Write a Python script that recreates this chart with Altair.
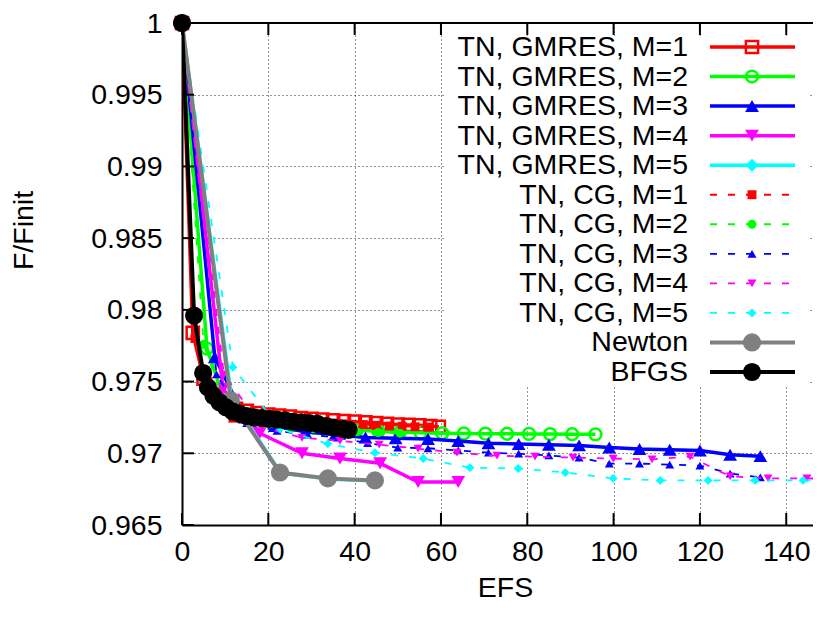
import altair as alt
import pandas as pd

# ---------------- data ----------------
G1_X = [0, 2.5, 5, 7.5, 10, 12.5, 15, 17.5, 20, 22.5, 25, 27.5, 30, 32.5, 35, 37.5, 40, 42.5, 45, 47.5, 50, 52.5, 55, 57.5, 59.5]
G1_Y = [1.0, 0.9784, 0.9752, 0.9741, 0.9735, 0.9731, 0.97295, 0.9728, 0.9727, 0.97262, 0.97255, 0.97245, 0.9724, 0.97235, 0.9723, 0.97225, 0.9722, 0.97215, 0.9721, 0.97205, 0.9720, 0.97198, 0.97195, 0.9719, 0.97185]

G2_X = [0, 5.8, 10.5, 15.5, 20.5, 25.5, 30.5, 35.5, 40.5, 45.5, 50.5, 55.3, 60.3, 65.3, 70.3, 75.3, 80.4, 85.3, 90.4, 95.8]
G2_Y = [1.0, 0.9773, 0.9731, 0.97255, 0.9722, 0.97195, 0.9718, 0.9717, 0.9716, 0.97153, 0.97148, 0.97143, 0.9714, 0.97138, 0.97137, 0.97136, 0.97135, 0.97134, 0.97133, 0.97132]

G3_X = [0, 7.6, 14.5, 21.5, 28.5, 35.5, 42.5, 49.5, 57, 64, 71, 78, 85, 92, 99, 106, 113, 120, 127, 134]
G3_Y = [1.0, 0.9767, 0.9725, 0.9719, 0.9715, 0.9713, 0.9711, 0.97105, 0.9710, 0.97085, 0.9707, 0.97065, 0.9706, 0.97055, 0.9704, 0.9703, 0.97025, 0.9702, 0.9699, 0.9698]

G4_X = [0, 9.5, 18, 27.8, 36.6, 45.9, 54.7, 64]
G4_Y = [1.0, 0.9745, 0.9714, 0.9700, 0.96963, 0.9693, 0.9680, 0.9680]

G5_X = [0, 11.5, 22.9, 34.0, 44.9]
G5_Y = [1.0, 0.9738, 0.96862, 0.96821, 0.96807]

C1_X = [0, 3, 6, 9.3, 11.8, 15, 18, 21, 24, 27, 30, 33, 36, 39, 42, 45, 48, 51, 54, 57]
C1_Y = [1.0, 0.9780, 0.9750, 0.9733, 0.97245, 0.9724, 0.97235, 0.9723, 0.97225, 0.9722, 0.97215, 0.9721, 0.97205, 0.9720, 0.9720, 0.97195, 0.9719, 0.97188, 0.97185, 0.97182]

C2_X = [0, 5, 10.7, 15.5, 20.5, 25.5, 30.5, 35.5, 40.5, 45.5, 50.5]
C2_Y = [1.0, 0.9776, 0.9728, 0.97235, 0.97205, 0.97185, 0.9717, 0.9716, 0.9715, 0.97145, 0.9714]

C3_X = [0, 8, 15, 22, 29, 36, 43, 50, 57, 64, 71, 78, 85, 92, 99, 106, 113, 120, 127, 134]
C3_Y = [1.0, 0.9755, 0.9721, 0.97156, 0.9713, 0.9711, 0.9707, 0.9704, 0.97035, 0.9702, 0.97004, 0.96997, 0.96985, 0.9697, 0.96928, 0.96928, 0.96921, 0.96914, 0.96859, 0.96832]

C4_X = [0, 9.7, 18.7, 27.8, 36.6, 45.7, 54.7, 63.7, 73, 81.8, 90.6, 99.9, 108.9, 117.7, 127, 135.8, 144.8, 153.8]
C4_Y = [1.0, 0.9755, 0.9718, 0.97108, 0.97087, 0.9706, 0.97032, 0.97004, 0.96983, 0.96976, 0.9697, 0.96963, 0.96958, 0.96976, 0.96839, 0.96825, 0.96825, 0.9682]

C5_X = [0, 11.8, 22.7, 33.8, 44.7, 55.9, 66.7, 77.9, 88.8, 99.9, 110.8, 121.9, 132.8, 143.9, 155]
C5_Y = [1.0, 0.9760, 0.9717, 0.97066, 0.97004, 0.96963, 0.96900, 0.96894, 0.96866, 0.96825, 0.96811, 0.96811, 0.96811, 0.96811, 0.9681]

NEWTON_X = [0, 11.3, 22.7, 33.8, 44.7]
NEWTON_Y = [1.0, 0.9737, 0.96866, 0.96825, 0.96811]

BFGS_X = [0, 2.8, 4.9, 6, 7.3, 8.7, 10.2, 11.8, 13.4, 15, 16.7, 18.4, 20.2, 22, 23.8, 25.7, 27.6, 29.5, 31.4, 33.4, 35.4, 37.4, 38.6]
BFGS_Y = [1.0, 0.9796, 0.9756, 0.9746, 0.9740, 0.97355, 0.9732, 0.9729, 0.97275, 0.9726, 0.9725, 0.97245, 0.9724, 0.97235, 0.9723, 0.9722, 0.97215, 0.9721, 0.97205, 0.9719, 0.97178, 0.97168, 0.97163]

LABELS = ["TN, GMRES, M=1", "TN, GMRES, M=2", "TN, GMRES, M=3", "TN, GMRES, M=4", "TN, GMRES, M=5",
          "TN, CG, M=1", "TN, CG, M=2", "TN, CG, M=3", "TN, CG, M=4", "TN, CG, M=5",
          "Newton", "BFGS"]
SERIES_X = [G1_X, G2_X, G3_X, G4_X, G5_X, C1_X, C2_X, C3_X, C4_X, C5_X, NEWTON_X, BFGS_X]
SERIES_Y = [G1_Y, G2_Y, G3_Y, G4_Y, G5_Y, C1_Y, C2_Y, C3_Y, C4_Y, C5_Y, NEWTON_Y, BFGS_Y]

X_TICKS = [0, 20, 40, 60, 80, 100, 120, 140]
Y_TICKS = [0.965, 0.97, 0.975, 0.98, 0.985, 0.99, 0.995, 1.0]
X_DOMAIN = [0, 146.2]
Y_DOMAIN = [0.965, 1.0]

# ---------------- styles ----------------
DASH = [7, 11]
STYLES = [
    dict(color="#ff0000", sw=3.5, dash=None, shape="square", filled=False, size=150, msw=2.5),
    dict(color="#00ff00", sw=3.5, dash=None, shape="circle", filled=False, size=140, msw=2.5),
    dict(color="#0000ff", sw=3.5, dash=None, shape="triangle-up", filled=True, size=190, msw=0),
    dict(color="#ff00ff", sw=3.5, dash=None, shape="triangle-down", filled=True, size=190, msw=0),
    dict(color="#00ffff", sw=3.5, dash=None, shape="diamond", filled=True, size=170, msw=0),
    dict(color="#ff0000", sw=1.8, dash=DASH, shape="square", filled=True, size=80, msw=0),
    dict(color="#00ff00", sw=1.8, dash=DASH, shape="circle", filled=True, size=80, msw=0),
    dict(color="#0000ff", sw=1.8, dash=DASH, shape="triangle-up", filled=True, size=80, msw=0),
    dict(color="#ff00ff", sw=1.8, dash=DASH, shape="triangle-down", filled=True, size=80, msw=0),
    dict(color="#00ffff", sw=1.8, dash=DASH, shape="diamond", filled=True, size=80, msw=0),
    dict(color="#808080", sw=4, dash=None, shape="circle", filled=True, size=330, msw=0),
    dict(color="#000000", sw=4, dash=None, shape="circle", filled=True, size=330, msw=0),
]

W, H = 631, 502
FONT = "Liberation Sans"
FS = 28.5
TICK = 12

xscale = alt.Scale(domain=X_DOMAIN, nice=False, zero=False)
yscale = alt.Scale(domain=Y_DOMAIN, nice=False, zero=False)

xaxis = alt.Axis(values=X_TICKS, format="d", title="EFS", titleX=323, titleY=62,
                 titleAlign="center", titleBaseline="middle", labelPadding=12,
                 ticks=False, grid=True, domain=True, labelFlush=False)
yaxis = alt.Axis(values=Y_TICKS, format=".3~f", title="F/Finit", titleAngle=270,
                 titleX=-159, titleY=207, titleAlign="center", titleBaseline="middle",
                 labelPadding=20, ticks=False, grid=True, domain=True, labelFlush=False)


def X(field):
    return alt.X(field, type="quantitative", scale=xscale, axis=xaxis)


def Y(field):
    return alt.Y(field, type="quantitative", scale=yscale, axis=yaxis)


one = pd.DataFrame({"k": [0]})
xt = pd.DataFrame({"t": X_TICKS})
yt = pd.DataFrame({"t": Y_TICKS})

main_layers = []
for xs, ys, st in zip(SERIES_X, SERIES_Y, STYLES):
    df = pd.DataFrame({"x": xs, "y": ys})
    lk = dict(color=st["color"], strokeWidth=st["sw"], clip=True)
    if st["dash"]:
        lk["strokeDash"] = st["dash"]
    main_layers.append(alt.Chart(df).mark_line(**lk).encode(x=X("x"), y=Y("y")))
    # markers are not clipped (gnuplot draws the start markers whole), but only
    # those inside the x range are drawn
    inside = df[df["x"] <= X_DOMAIN[1]]
    pk = dict(shape=st["shape"], filled=st["filled"], size=st["size"], color=st["color"], opacity=1)
    if not st["filled"]:
        pk["strokeWidth"] = st["msw"]
    main_layers.append(alt.Chart(inside).mark_point(**pk).encode(x=X("x"), y=Y("y")))

# inward ticks and top border (the right border lies past the picture edge)
tick_style = dict(color="black", strokeWidth=2)
main_layers.append(alt.Chart(xt).mark_rule(**tick_style).encode(x=X("t"), y=alt.value(H), y2=alt.value(H - TICK)))
main_layers.append(alt.Chart(xt).mark_rule(**tick_style).encode(x=X("t"), y=alt.value(0), y2=alt.value(TICK)))
main_layers.append(alt.Chart(yt).mark_rule(**tick_style).encode(y=Y("t"), x=alt.value(0), x2=alt.value(TICK)))
main_layers.append(alt.Chart(one).mark_rule(**tick_style).encode(x=alt.value(0), x2=alt.value(W), y=alt.value(0)))

main = alt.layer(*main_layers)

# ---------------- legend ----------------
ly = alt.Y("label:N", scale=alt.Scale(type="point", domain=LABELS, range=[24, 349], padding=0), axis=None)
leg_layers = [
    alt.Chart(one).mark_rect(color="white").encode(
        x=alt.value(263), x2=alt.value(626), y=alt.value(13), y2=alt.value(362)),
    alt.Chart(pd.DataFrame({"label": LABELS})).mark_text(
        align="right", baseline="middle", font=FONT, fontSize=FS, color="black").encode(
        x=alt.value(506), y=ly, text="label:N"),
]
for lab, st in zip(LABELS, STYLES):
    d = pd.DataFrame({"label": [lab]})
    rk = dict(color=st["color"], strokeWidth=st["sw"])
    if st["dash"]:
        rk["strokeDash"] = st["dash"]
    leg_layers.append(alt.Chart(d).mark_rule(**rk).encode(x=alt.value(528), x2=alt.value(613), y=ly))
    pk = dict(shape=st["shape"], filled=st["filled"], size=st["size"], color=st["color"], opacity=1)
    if not st["filled"]:
        pk["strokeWidth"] = st["msw"]
    leg_layers.append(alt.Chart(d).mark_point(**pk).encode(x=alt.value(570), y=ly))

legend = alt.layer(*leg_layers)

chart = alt.layer(main, legend).resolve_scale(y="independent").properties(
    width=W, height=H,
    padding={"left": 174, "top": 15, "right": 0, "bottom": 76},
    autosize=alt.AutoSizeParams(type="none"),
).configure_axis(
    labelFont=FONT, labelFontSize=FS, labelColor="black",
    titleFont=FONT, titleFontSize=FS, titleFontWeight="normal", titleColor="black",
    domainColor="black", domainWidth=2,
    gridColor="black", gridDash=[1, 3], gridWidth=1, gridOpacity=0.85,
).configure_view(strokeWidth=0)

chart.save("out.html", embed_options={"renderer": "svg", "actions": False})
